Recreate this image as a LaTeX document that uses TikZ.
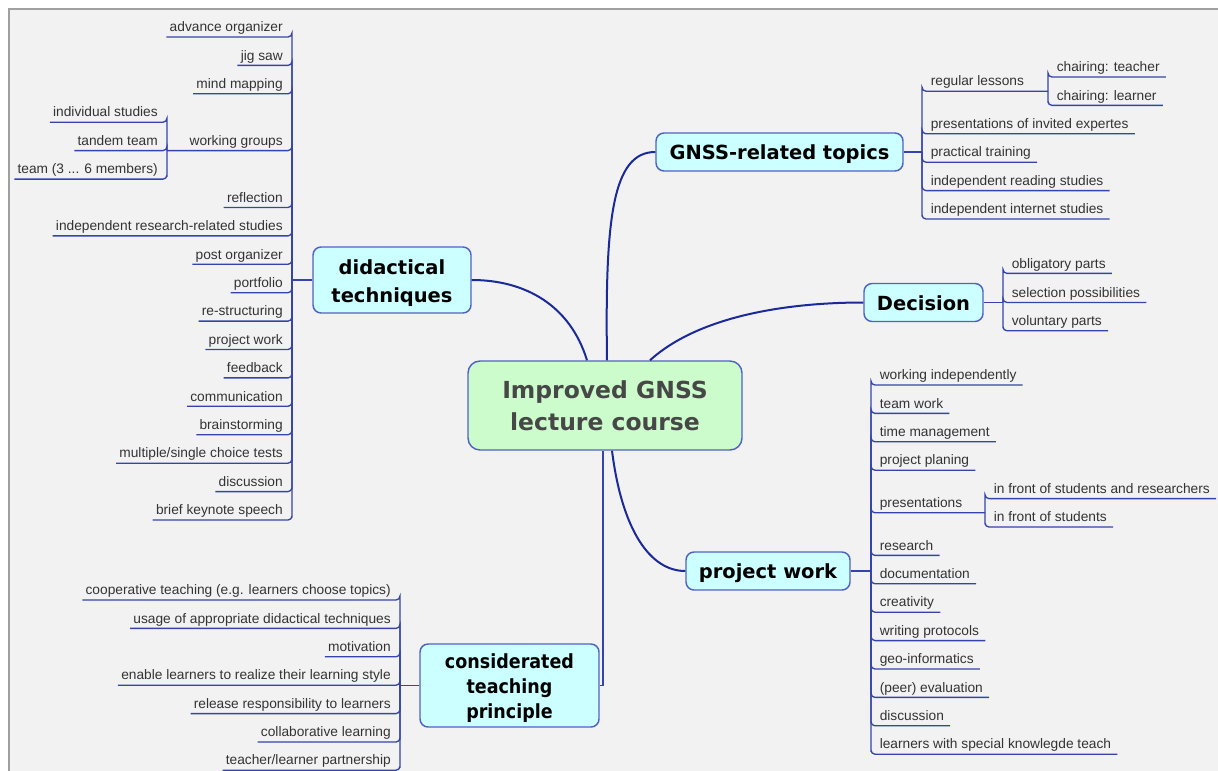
\documentclass[tikz,border=0pt]{standalone}
\usepackage{fontspec}
\setmainfont{Liberation Sans}
\newfontfamily\topicfont{DejaVu Sans}
\newfontfamily\condfont{DejaVu Sans}[FakeStretch=0.9]
\usetikzlibrary{calc}
\definecolor{panel}{HTML}{F2F2F2}
\definecolor{panelborder}{HTML}{A0A0A0}
\definecolor{cyanfill}{HTML}{CCFFFF}
\definecolor{greenfill}{HTML}{CCFCCC}
\definecolor{boxline}{HTML}{5262C4}
\definecolor{mainline}{HTML}{1A2A9A}
\definecolor{twigcolor}{HTML}{3444AA}
\definecolor{leaftext}{HTML}{333333}
\definecolor{centertext}{HTML}{474747}
\newcommand\lowtext[2]{\raisebox{#1}[\height][\depth]{\begin{tabular}{@{}c@{}}#2\end{tabular}}}
\tikzset{
 topic/.style={draw=boxline, line width=1.1pt, fill=cyanfill, rounded corners=6pt, align=center, inner sep=0pt, text=black, font=\topicfont\bfseries\fontsize{14.6}{21}\selectfont},
 core/.style={topic, fill=greenfill, rounded corners=9pt, text=centertext, font=\topicfont\bfseries\fontsize{17.6}{24}\selectfont},
 leaf/.style={font=\fontsize{10.3}{12}\selectfont, text=leaftext, inner sep=0pt, text height=7.5pt, text depth=3.75pt},
 rleaf/.style={leaf, anchor=south west, execute at begin node={\hspace*{6.4pt}}, execute at end node={\hspace*{4.5pt}}},
 lleaf/.style={leaf, anchor=south east, execute at begin node={\hspace*{2.25pt}}, execute at end node={\hspace*{6.75pt}}},
 branch/.style={draw=mainline, line width=1.5pt},
 twig/.style={draw=twigcolor, line width=1pt, rounded corners=3pt},
}
\begin{document}
\begin{tikzpicture}[x=0.75pt, y=-0.75pt]
\useasboundingbox (0,0) rectangle (1218,771);
\fill[white] (0,0) rectangle (1218,771);
\fill[panel] (9,9) rectangle (1218,771);
\draw[panelborder, line width=1.1pt] (9,771) -- (9,9) -- (1218,9);

% main topics
\node[core, minimum width=205.5pt, minimum height=66.75pt] (c) at (605,405.5) {\lowtext{-2pt}{Improved GNSS\\lecture course}};
\node[topic, minimum width=118.5pt, minimum height=49.5pt] (did) at (392,280) {\lowtext{-2.25pt}{didactical\\techniques}};
\node[topic, minimum width=185.25pt, minimum height=28.5pt] (gnss) at (779.5,152) {\lowtext{-1.5pt}{GNSS-related topics}};
\node[topic, minimum width=89.25pt, minimum height=28.5pt] (dec) at (923.5,302.5) {\lowtext{-1.5pt}{Decision}};
\node[topic, minimum width=123pt, minimum height=28.5pt] (pw) at (768,571) {\lowtext{-1.5pt}{project work}};
\node[topic, minimum width=134.25pt, minimum height=62.25pt, font=\condfont\bfseries\fontsize{14.6}{18.75}\selectfont] (ctp) at (509.5,685.5) {\lowtext{-2.25pt}{considerated\\teaching\\principle}};

% main branches
\draw[branch] ($(c.north)+(-18,0)$) .. controls (570,305) and (525,280) .. (did.east);
\draw[branch] ($(c.north)+(2,0)$) .. controls (605,220) and (612,152) .. (gnss.west);
\draw[branch] ($(c.north)+(45,0)$) .. controls (700,315) and (790,302.5) .. (dec.west);
\draw[branch] ($(c.south)+(7,0)$) .. controls (622,530) and (650,571) .. (pw.west);
\draw[twig, rounded corners=0pt] ($(c.south)+(-2,0)$) |- (ctp.east);

% didactical techniques leaves
\node[lleaf] (d1) at (292,37.0) {advance organizer};
\node[lleaf] (d2) at (292,65.4) {jig saw};
\node[lleaf] (d3) at (292,93.8) {mind mapping};
\node[lleaf] (d4) at (292,150.6) {working groups};
\node[lleaf] (d5) at (292,207.5) {reflection};
\node[lleaf] (d6) at (292,235.9) {independent research-related studies};
\node[lleaf] (d7) at (292,264.3) {post organizer};
\node[lleaf] (d8) at (292,292.7) {portfolio};
\node[lleaf] (d9) at (292,321.1) {re-structuring};
\node[lleaf] (d10) at (292,349.5) {project work};
\node[lleaf] (d11) at (292,377.9) {feedback};
\node[lleaf] (d12) at (292,406.3) {communication};
\node[lleaf] (d13) at (292,434.7) {brainstorming};
\node[lleaf] (d14) at (292,463.2) {multiple/single choice tests};
\node[lleaf] (d15) at (292,491.6) {discussion};
\node[lleaf] (d16) at (292,520.0) {brief keynote speech};
\node[lleaf] (w1) at (167,122.2) {individual studies};
\node[lleaf] (w2) at (167,150.6) {tandem team};
\node[lleaf] (w3) at (167,179.1) {team (3 ... 6 members)};
\coordinate (ds) at (292,280);
\coordinate (ws) at (167,150.6);
\draw[twig] (did.west) -- (ds);
\foreach \n in {d1,d2,d3,d5,d6,d7,d8,d9,d10,d11,d12,d13,d14,d15,d16}
  \draw[twig] (ds) |- (\n.south east) -- (\n.south west);
\draw[twig] (ds) |- (d4.south east) -- (d4.south west) -- (ws);
\foreach \n in {w1,w2,w3}
  \draw[twig] (ws) |- (\n.south east) -- (\n.south west);

% GNSS-related topics leaves
\node[rleaf] (g1) at (922,91.2) {regular lessons};
\node[rleaf] (g2) at (922,133.8) {presentations of invited expertes};
\node[rleaf] (g3) at (922,162.2) {practical training};
\node[rleaf] (g4) at (922,190.6) {independent reading studies};
\node[rleaf] (g5) at (922,219.0) {independent internet studies};
\node[rleaf] (r1) at (1048,77.0) {chairing: teacher};
\node[rleaf] (r2) at (1048,105.4) {chairing: learner};
\coordinate (gs) at (922,152);
\coordinate (rs) at (1048,91.2);
\draw[twig] (gnss.east) -- (gs);
\foreach \n in {g2,g3,g4,g5}
  \draw[twig] (gs) |- (\n.south west) -- (\n.south east);
\draw[twig] (gs) |- (g1.south west) -- (g1.south east) -- (rs);
\foreach \n in {r1,r2}
  \draw[twig] (rs) |- (\n.south west) -- (\n.south east);

% Decision leaves
\node[rleaf] (e1) at (1003,273.4) {obligatory parts};
\node[rleaf] (e2) at (1003,302.5) {selection possibilities};
\node[rleaf] (e3) at (1003,330.8) {voluntary parts};
\coordinate (es) at (1003,302.5);
\draw[twig] (dec.east) -- (es);
\foreach \n in {e1,e2,e3}
  \draw[twig] (es) |- (\n.south west) -- (\n.south east);

% project work leaves
\node[rleaf] (p1) at (871,385.0) {working independently};
\node[rleaf] (p2) at (871,413.4) {team work};
\node[rleaf] (p3) at (871,441.8) {time management};
\node[rleaf] (p4) at (871,470.2) {project planing};
\node[rleaf] (p5) at (871,512.8) {presentations};
\node[rleaf] (p6) at (871,555.4) {research};
\node[rleaf] (p7) at (871,583.8) {documentation};
\node[rleaf] (p8) at (871,612.2) {creativity};
\node[rleaf] (p9) at (871,640.6) {writing protocols};
\node[rleaf] (p10) at (871,669.0) {geo-informatics};
\node[rleaf] (p11) at (871,697.4) {(peer) evaluation};
\node[rleaf] (p12) at (871,725.8) {discussion};
\node[rleaf] (p13) at (871,754.2) {learners with special knowlegde teach};
\node[rleaf] (q1) at (985,498.6) {in front of students and researchers};
\node[rleaf] (q2) at (985,527.0) {in front of students};
\coordinate (ps) at (871,571);
\coordinate (qs) at (985,512.8);
\draw[twig] (pw.east) -- (ps);
\foreach \n in {p1,p2,p3,p4,p6,p7,p8,p9,p10,p11,p12,p13}
  \draw[twig] (ps) |- (\n.south west) -- (\n.south east);
\draw[twig] (ps) |- (p5.south west) -- (p5.south east) -- (qs);
\foreach \n in {q1,q2}
  \draw[twig] (qs) |- (\n.south west) -- (\n.south east);

% considerated teaching principle leaves
\node[lleaf] (t1) at (400,600.0) {cooperative teaching (e.g. learners choose topics)};
\node[lleaf] (t2) at (400,628.4) {usage of appropriate didactical techniques};
\node[lleaf] (t3) at (400,656.8) {motivation};
\node[lleaf] (t4) at (400,685.2) {enable learners to realize their learning style};
\node[lleaf] (t5) at (400,713.6) {release responsibility to learners};
\node[lleaf] (t6) at (400,742.0) {collaborative learning};
\node[lleaf] (t7) at (400,770.2) {teacher/learner partnership};
\coordinate (ts) at (400,685.5);
\draw[twig] (ctp.west) -- (ts);
\foreach \n in {t1,t2,t3,t4,t5,t6,t7}
  \draw[twig] (ts) |- (\n.south east) -- (\n.south west);
\end{tikzpicture}
\end{document}
